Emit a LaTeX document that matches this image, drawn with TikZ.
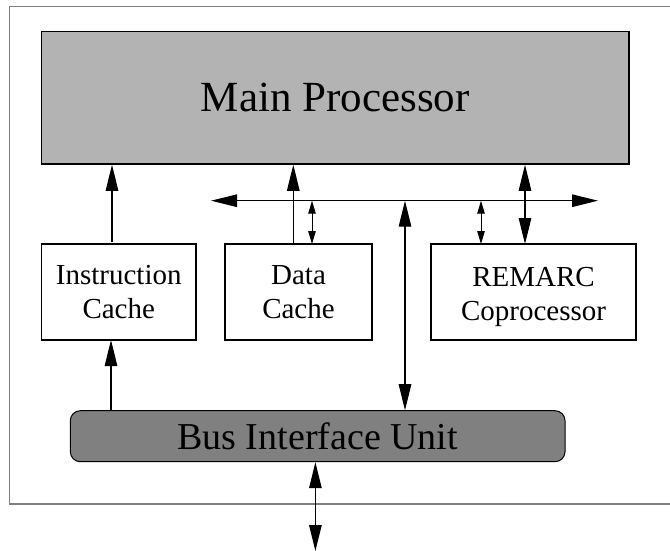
\documentclass[tikz,border=0pt]{standalone}
\usepackage{fontspec}
\setmainfont{Liberation Serif}
\usetikzlibrary{arrows.meta}
\definecolor{procgray}{RGB}{179,179,179}
\definecolor{biugray}{RGB}{128,128,128}
\definecolor{framegray}{RGB}{128,128,128}
\begin{document}
\begin{tikzpicture}[x=1pt,y=-1pt,
  frame/.style={draw=framegray,line width=1.2pt},
  unitbox/.style={draw=black,line width=1.3pt,fill=white,align=center,
    inner sep=0pt,font=\fontsize{29}{34}\selectfont},
  bigtip/.style={line width=1.2pt,-{Triangle[length=26pt,width=12.5pt]}},
  bigboth/.style={line width=1.2pt,{Triangle[length=26pt,width=12.5pt]}-{Triangle[length=26pt,width=12.5pt]}},
  smallboth/.style={line width=1pt,{Triangle[length=13pt,width=7.5pt]}-{Triangle[length=13pt,width=7.5pt]}}]
\useasboundingbox (0,0) rectangle (670,550);

% enclosing frame (right side runs off the page)
\draw[frame] (678,6.5) -- (9.7,6.5) -- (9.7,504) -- (678,504);

% processing units
\node[draw=black,line width=1.5pt,fill=procgray,minimum width=587.3pt,minimum height=132.3pt,
  inner sep=0pt,font=\fontsize{43}{48}\selectfont] (main) at (335.35,97.85) {Main Processor};
\node[unitbox,minimum width=154.5pt,minimum height=96pt] (ic) at (118.75,292) {Instruction\\Cache};
\node[unitbox,minimum width=147pt,minimum height=96pt] (dc) at (298.5,292) {Data\\Cache};
\node[unitbox,minimum width=205pt,minimum height=96pt] (rc) at (533.5,292) {};
\node[font=\fontsize{29}{34}\selectfont,align=center,inner sep=0pt] (rctext) at (533.5,297) {REMARC\\Coprocessor};
\node[draw=black,line width=1pt,fill=biugray,rounded corners=10pt,minimum width=494.7pt,
  minimum height=51pt,inner sep=0pt,font=\fontsize{38}{42}\selectfont] (biu) at (317.65,436.2) {Bus Interface Unit};

% shared bus
\coordinate (busL) at (211,200.7);
\coordinate (busR) at (598,200.7);
\draw[bigboth,line width=1.3pt] (busL) -- (busR);

% attachment points
\coordinate (icTop) at (112,242);
\coordinate (icBot) at (111,340);
\coordinate (dcUp) at (293.3,244);
\coordinate (dcBus) at (312,244);
\coordinate (rcBus) at (481,244);
\coordinate (rcMain) at (525,244);
\coordinate (busDrop) at (405,200.7);
\coordinate (extBus) at (315.4,551);

% connectors
\draw[bigtip] (icTop) -- (icTop |- main.south);
\draw[bigtip] (icBot |- biu.north) -- (icBot);
\draw[bigtip] (dcUp) -- (dcUp |- main.south);
\draw[smallboth] (dcBus |- busL) -- (dcBus);
\draw[smallboth] (rcBus |- busL) -- (rcBus);
\draw[bigboth] (rcMain |- main.south) -- (rcMain);
\draw[bigboth] (busDrop) -- (busDrop |- biu.north);
\draw[bigboth] (extBus |- biu.south) -- (extBus);
\end{tikzpicture}
\end{document}
